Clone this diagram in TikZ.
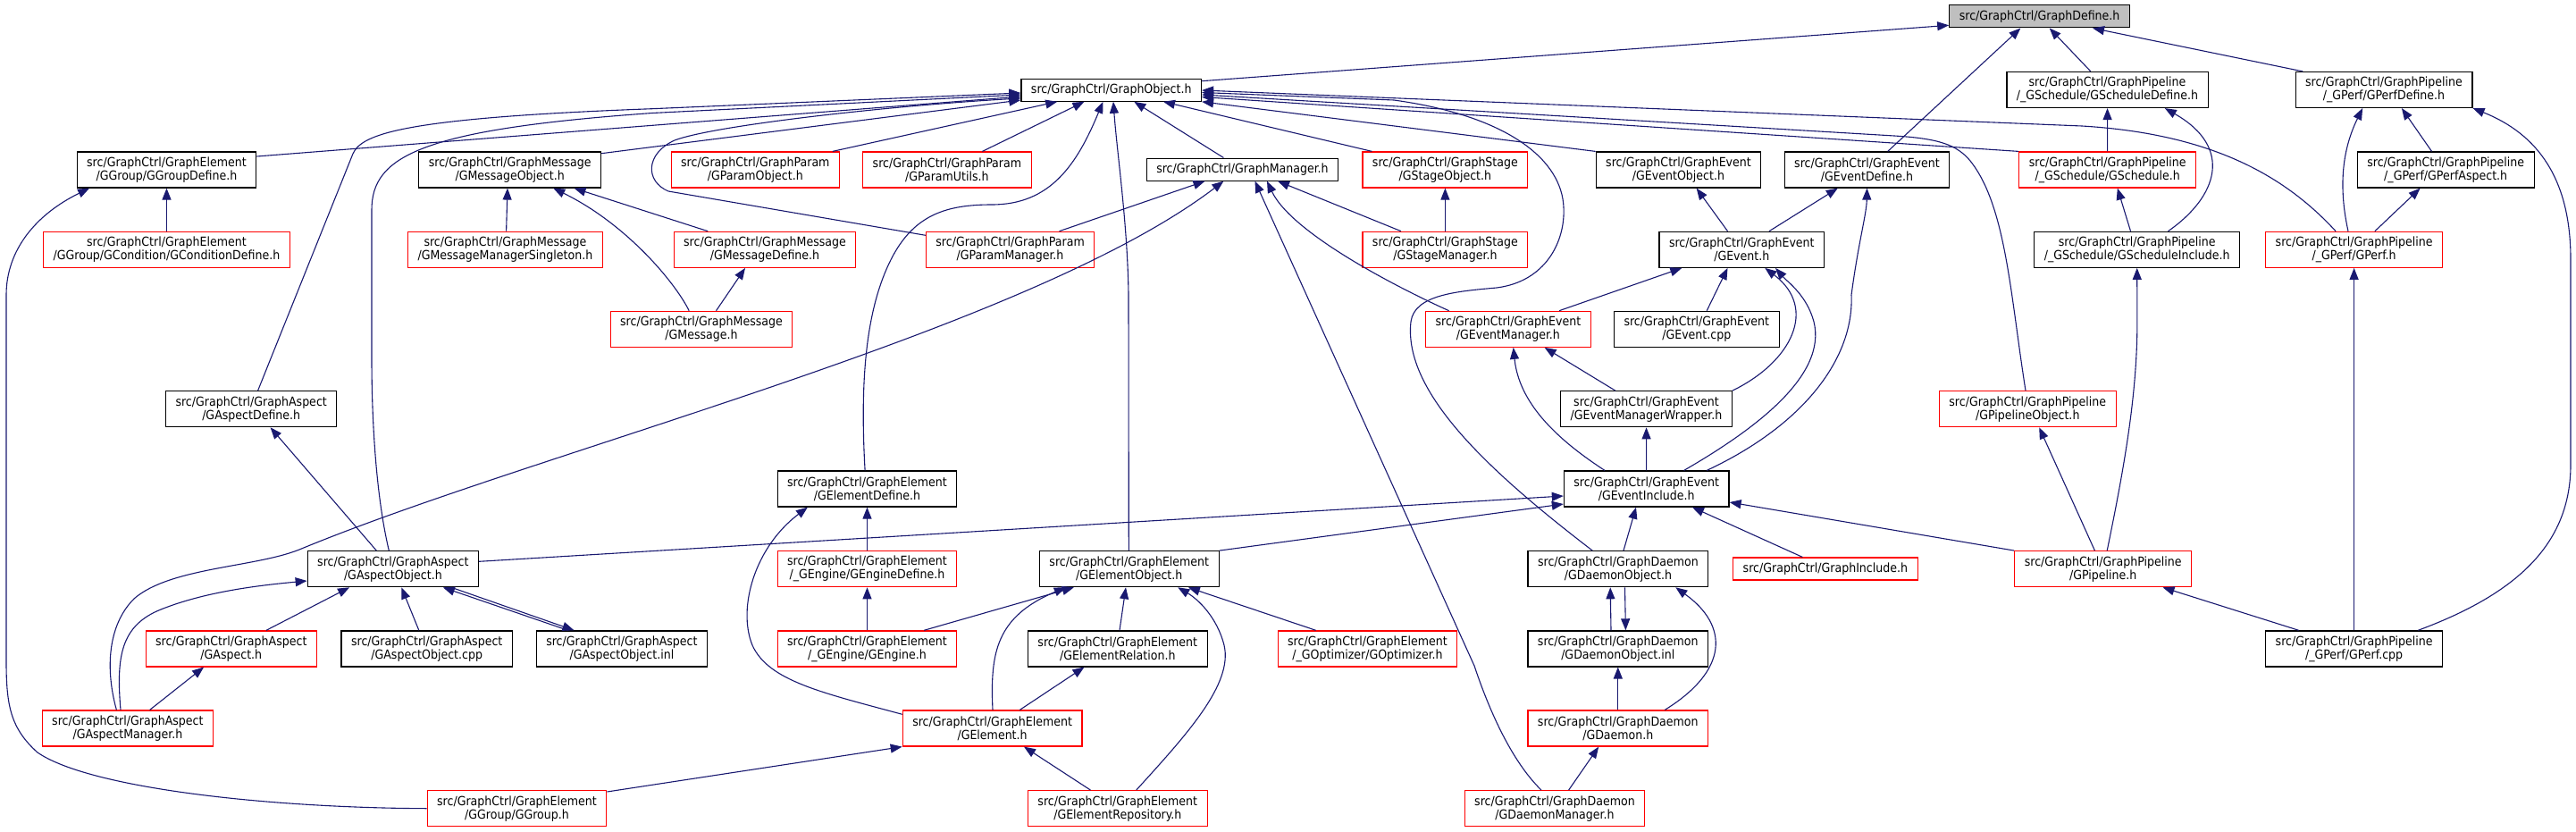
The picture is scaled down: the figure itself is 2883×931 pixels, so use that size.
\documentclass[tikz,border=0pt]{standalone}
\usepackage{fontspec}
\setmainfont{DejaVu Sans Condensed}
\usepackage{xcolor}
\usepackage{tikz}
\usetikzlibrary{arrows.meta}
\definecolor{edgeblue}{RGB}{25,25,112}
\definecolor{rootgray}{RGB}{191,191,191}
\definecolor{cutred}{RGB}{255,0,0}
\newcommand{\boxfont}{\fontsize{14}{15}\selectfont}
\tikzset{
  filebox/.style={rectangle, draw=black, fill=white, line width=1.2pt,
    inner xsep=11pt, inner ysep=0pt, minimum height=40pt,
    align=center, font=\boxfont},
  redbox/.style={filebox, draw=cutred},
  linebox/.style={filebox, minimum height=25pt},
  rootbox/.style={linebox, fill=rootgray},
  dep/.style={-{Triangle[length=13pt,width=10pt]}, line width=1.1pt, color=edgeblue}
}
\begin{document}
\begin{tikzpicture}[x=1pt, y=-1pt]
  \useasboundingbox (0,0) rectangle (2883,931);

  % row 0 and row 1
  \node[rootbox] (gdef) at (2282.6,18.4) {src/GraphCtrl/GraphDefine.h};
  \node[linebox] (gobj) at (1243.7,100.7) {src/GraphCtrl/GraphObject.h};
  \node[filebox] (gschdef) at (2358.5,100.5) {src/GraphCtrl/GraphPipeline\\/\_GSchedule/GScheduleDefine.h};
  \node[filebox] (gpdef) at (2668,100.5) {src/GraphCtrl/GraphPipeline\\/\_GPerf/GPerfDefine.h};

  % row 2
  \node[filebox] (ggrpdef) at (186.5,190) {src/GraphCtrl/GraphElement\\/GGroup/GGroupDefine.h};
  \node[filebox] (gmsgobj) at (570.7,190) {src/GraphCtrl/GraphMessage\\/GMessageObject.h};
  \node[redbox] (gparobj) at (845.3,190) {src/GraphCtrl/GraphParam\\/GParamObject.h};
  \node[redbox] (gparutl) at (1059.9,190) {src/GraphCtrl/GraphParam\\/GParamUtils.h};
  \node[linebox] (gmgr) at (1390.5,189.6) {src/GraphCtrl/GraphManager.h};
  \node[redbox] (gstgobj) at (1617.4,190) {src/GraphCtrl/GraphStage\\/GStageObject.h};
  \node[filebox] (gevobj) at (1878.5,190) {src/GraphCtrl/GraphEvent\\/GEventObject.h};
  \node[filebox] (gevdef) at (2089.5,190) {src/GraphCtrl/GraphEvent\\/GEventDefine.h};
  \node[redbox] (gsch) at (2358.7,190) {src/GraphCtrl/GraphPipeline\\/\_GSchedule/GSchedule.h};
  \node[filebox] (gpasp) at (2737.2,190) {src/GraphCtrl/GraphPipeline\\/\_GPerf/GPerfAspect.h};

  % row 3
  \node[redbox] (gcond) at (186.5,279.3) {src/GraphCtrl/GraphElement\\/GGroup/GCondition/GConditionDefine.h};
  \node[redbox] (gmms) at (565.4,279.3) {src/GraphCtrl/GraphMessage\\/GMessageManagerSingleton.h};
  \node[redbox] (gmsgdef) at (856,279.3) {src/GraphCtrl/GraphMessage\\/GMessageDefine.h};
  \node[redbox] (gparmgr) at (1130.6,279.3) {src/GraphCtrl/GraphParam\\/GParamManager.h};
  \node[redbox] (gstgmgr) at (1617.4,279.3) {src/GraphCtrl/GraphStage\\/GStageManager.h};
  \node[filebox] (gevh) at (1949.3,279.3) {src/GraphCtrl/GraphEvent\\/GEvent.h};
  \node[filebox] (gschinc) at (2391.7,279.3) {src/GraphCtrl/GraphPipeline\\/\_GSchedule/GScheduleInclude.h};
  \node[redbox] (gperf) at (2634.6,279.3) {src/GraphCtrl/GraphPipeline\\/\_GPerf/GPerf.h};

  % row 4
  \node[redbox] (gmsg) at (785,368.3) {src/GraphCtrl/GraphMessage\\/GMessage.h};
  \node[redbox] (gevmgr) at (1687.9,368.3) {src/GraphCtrl/GraphEvent\\/GEventManager.h};
  \node[filebox] (gevcpp) at (1898.8,368.3) {src/GraphCtrl/GraphEvent\\/GEvent.cpp};

  % row 5
  \node[filebox] (gaspdef) at (281.2,457.7) {src/GraphCtrl/GraphAspect\\/GAspectDefine.h};
  \node[filebox] (gevmw) at (1842.5,457.7) {src/GraphCtrl/GraphEvent\\/GEventManagerWrapper.h};
  \node[redbox] (gpipobj) at (2269.3,457.7) {src/GraphCtrl/GraphPipeline\\/GPipelineObject.h};

  % row 6
  \node[filebox] (geldef) at (970.5,547) {src/GraphCtrl/GraphElement\\/GElementDefine.h};
  \node[filebox] (gevinc) at (1842.7,547) {src/GraphCtrl/GraphEvent\\/GEventInclude.h};

  % row 7
  \node[filebox] (gaspobj) at (439.9,636.7) {src/GraphCtrl/GraphAspect\\/GAspectObject.h};
  \node[redbox] (gengdef) at (970.5,636.7) {src/GraphCtrl/GraphElement\\/\_GEngine/GEngineDefine.h};
  \node[filebox] (gelobj) at (1263.8,636.7) {src/GraphCtrl/GraphElement\\/GElementObject.h};
  \node[filebox] (gdobj) at (1810.9,636.7) {src/GraphCtrl/GraphDaemon\\/GDaemonObject.h};
  \node[redbox, minimum height=25pt] (ginc) at (2042.9,636.5) {src/GraphCtrl/GraphInclude.h};
  \node[redbox] (gpipe) at (2353.7,636.7) {src/GraphCtrl/GraphPipeline\\/GPipeline.h};

  % row 8
  \node[redbox] (gasp) at (258.8,725.9) {src/GraphCtrl/GraphAspect\\/GAspect.h};
  \node[filebox] (gaspcpp) at (477.7,725.9) {src/GraphCtrl/GraphAspect\\/GAspectObject.cpp};
  \node[filebox] (gaspinl) at (695.9,725.9) {src/GraphCtrl/GraphAspect\\/GAspectObject.inl};
  \node[redbox] (geng) at (970.5,725.9) {src/GraphCtrl/GraphElement\\/\_GEngine/GEngine.h};
  \node[filebox] (gelrel) at (1250.8,725.9) {src/GraphCtrl/GraphElement\\/GElementRelation.h};
  \node[redbox] (gopt) at (1530.5,725.9) {src/GraphCtrl/GraphElement\\/\_GOptimizer/GOptimizer.h};
  \node[filebox] (gdinl) at (1810.8,725.9) {src/GraphCtrl/GraphDaemon\\/GDaemonObject.inl};
  \node[filebox] (gpcpp) at (2634.6,725.9) {src/GraphCtrl/GraphPipeline\\/\_GPerf/GPerf.cpp};

  % row 9 and row 10
  \node[redbox] (gaspmgr) at (142.9,815) {src/GraphCtrl/GraphAspect\\/GAspectManager.h};
  \node[redbox] (gelem) at (1110.6,815) {src/GraphCtrl/GraphElement\\/GElement.h};
  \node[redbox] (gdaemon) at (1810.8,815) {src/GraphCtrl/GraphDaemon\\/GDaemon.h};
  \node[redbox] (ggroup) at (578.5,904.7) {src/GraphCtrl/GraphElement\\/GGroup/GGroup.h};
  \node[redbox] (gelrepo) at (1250.8,904.7) {src/GraphCtrl/GraphElement\\/GElementRepository.h};
  \node[redbox] (gdmgr) at (1740,904.7) {src/GraphCtrl/GraphDaemon\\/GDaemonManager.h};

  % into GraphDefine.h
  \draw[dep] ([yshift=10pt]gobj.east) -- ([yshift=-9.9pt]gdef.west);
  \draw[dep] ([xshift=23.2pt]gevdef.north) -- ([xshift=-21.2pt]gdef.south);
  \draw[dep] ([xshift=-18.7pt]gschdef.north) -- ([xshift=11.1pt]gdef.south);
  \draw[dep] ([xshift=-90.8pt]gpdef.north) -- ([xshift=59.4pt]gdef.south);

  % into GraphObject.h
  \draw[dep] ([xshift=7.4pt]gaspdef.north) -- (395,172) .. controls (405,150) and (450,132) .. (730,121.7) -- ([yshift=-3.3pt]gobj.west);
  \draw[dep] ([xshift=-4.6pt]gaspobj.north) .. controls (422,560) and (416,480) .. (416,400) -- (416,235) .. controls (416,175) and (470,145) .. (730,126.5) -- ([yshift=-5.3pt]gobj.west);
  \draw[dep] ([yshift=15pt]ggrpdef.east) -- ([yshift=-7.3pt]gobj.west);
  \draw[dep] ([yshift=16pt]gparmgr.west) -- (748,214) .. controls (722,203) and (722,172) .. (755,157) .. controls (800,140) and (1000,118) .. ([yshift=-9.3pt]gobj.west);
  \draw[dep] ([yshift=18.3pt]gmsgobj.east) -- ([yshift=-11.3pt]gobj.west);
  \draw[dep] ([xshift=86.5pt]gparobj.north) -- ([xshift=-60.5pt]gobj.south);
  \draw[dep] ([xshift=39.5pt]gparutl.north) -- ([xshift=-30.2pt]gobj.south);
  \draw[dep] ([xshift=-2.4pt]geldef.north) .. controls (962,420) and (970,340) .. (1000,285) .. controls (1025,240) and (1060,229) .. (1110,229) .. controls (1175,229) and (1205,185) .. ([xshift=-9.3pt]gobj.south);
  \draw[dep] ([xshift=-0.5pt]gelobj.north) -- (1263,330) .. controls (1262,250) and (1250,170) .. ([xshift=2.3pt]gobj.south);
  \draw[dep] ([xshift=-21.1pt]gmgr.north) -- ([xshift=25.6pt]gobj.south);
  \draw[dep] ([xshift=-82pt]gstgobj.north) -- ([xshift=58.3pt]gobj.south);
  \draw[dep] (gevobj.north west) -- (gobj.south east);
  \draw[dep] ([xshift=-28.7pt]gdobj.north) .. controls (1670,530) and (1570,440) .. (1579,360) .. controls (1583,330) and (1630,326) .. (1675,322) .. controls (1730,315) and (1752,270) .. (1750,232) .. controls (1748,180) and (1690,130) .. (1560,112) -- ([yshift=-2.8pt]gobj.east);
  \draw[dep] (gsch.north west) -- ([yshift=-7.8pt]gobj.east);
  \draw[dep] ([xshift=-20.5pt]gperf.north) .. controls (2560,200) and (2480,150) .. (2330,141) -- ([yshift=-0.3pt]gobj.east);
  \draw[dep] ([xshift=-2.3pt]gpipobj.north) .. controls (2250,330) and (2245,230) .. (2205,180) .. controls (2190,162) and (2170,155) .. (2120,152) -- ([yshift=-5.3pt]gobj.east);

  % into GraphManager.h
  \draw[dep] ([xshift=54.9pt]gparmgr.north) -- ([xshift=-42pt]gmgr.south);
  \draw[dep] ([xshift=-12.5pt]gaspmgr.north) .. controls (118,750) and (120,700) .. (150,670) .. controls (190,635) and (285,635) .. (335,615) .. controls (600,505) and (1150,370) .. ([xshift=-21.1pt]gmgr.south);
  \draw[dep] ([xshift=-15pt]gdmgr.north) .. controls (1690,850) and (1665,790) .. (1650,745) -- ([xshift=14pt]gmgr.south);
  \draw[dep] ([xshift=-66.3pt]gevmgr.north) .. controls (1560,320) and (1445,260) .. ([xshift=27.5pt]gmgr.south);
  \draw[dep] ([xshift=-49.4pt]gstgmgr.north) -- ([xshift=39.5pt]gmgr.south);

  % stage and event headers
  \draw[dep] (gstgmgr) -- (gstgobj);
  \draw[dep] ([xshift=-15.8pt]gevh.north) -- ([xshift=20.1pt]gevobj.south);
  \draw[dep] ([xshift=30.7pt]gevh.north) -- ([xshift=-32.7pt]gevdef.south);
  \draw[dep] ([xshift=67.5pt]gevinc.north) .. controls (2020,475) and (2075,400) .. (2072,330) .. controls (2080,270) and (2089,240) .. (gevdef.south);
  \draw[dep] ([xshift=57.1pt]gevmgr.north) -- ([xshift=-67pt]gevh.south);
  \draw[dep] ([xshift=11.4pt]gevcpp.north) -- ([xshift=-15.8pt]gevh.south);
  \draw[dep] (gevmw.north east) .. controls (2005,405) and (2035,345) .. ([xshift=26pt]gevh.south);
  \draw[dep] ([xshift=41.9pt]gevinc.north) .. controls (1965,480) and (2045,420) .. (2030,360) .. controls (2022,330) and (2000,315) .. ([xshift=37.7pt]gevh.south);
  \draw[dep] ([xshift=-34.7pt]gevmw.north) -- ([xshift=40.7pt]gevmgr.south);
  \draw[dep] ([xshift=-46.7pt]gevinc.north) .. controls (1740,490) and (1700,450) .. ([xshift=5.8pt]gevmgr.south);
  \draw[dep] (gevinc) -- (gevmw);

  % into GEventInclude.h
  \draw[dep] ([yshift=8.4pt]gaspobj.east) -- ([yshift=-8pt]gevinc.west);
  \draw[dep] (gelobj.north east) -- ([yshift=-17pt]gevinc.west);
  \draw[dep] ([xshift=6.1pt]gdobj.north) -- ([xshift=-11.7pt]gevinc.south);
  \draw[dep] ([xshift=-25.6pt]ginc.north) -- ([xshift=51.2pt]gevinc.south);
  \draw[dep] (gpipe.north west) -- ([yshift=-15pt]gevinc.east);

  % daemon headers
  \draw[dep] ([xshift=-7.8pt]gdinl.north) -- ([xshift=-8.7pt]gdobj.south);
  \draw[dep] ([xshift=7.6pt]gdobj.south) -- ([xshift=8.6pt]gdinl.north);
  \draw[dep] ([xshift=52.4pt]gdaemon.north) .. controls (1935,750) and (1935,700) .. ([xshift=64.4pt]gdobj.south);
  \draw[dep] (gdaemon) -- (gdinl);
  \draw[dep] ([xshift=15.6pt]gdmgr.north) -- ([xshift=-21.6pt]gdaemon.south);

  % element headers
  \draw[dep] ([xshift=63.7pt]geng.north) -- ([xshift=-62pt]gelobj.south);
  \draw[dep] ([xshift=0.4pt]gelem.north) .. controls (1108,730) and (1115,690) .. ([xshift=-71pt]gelobj.south);
  \draw[dep] ([xshift=2.2pt]gelrel.north) -- ([xshift=-3.8pt]gelobj.south);
  \draw[dep] ([xshift=20.9pt]gelrepo.north) .. controls (1330,820) and (1380,765) .. (1370,722) .. controls (1362,690) and (1340,670) .. ([xshift=54.4pt]gelobj.south);
  \draw[dep] ([xshift=-57.9pt]gopt.north) -- ([xshift=66pt]gelobj.south);
  \draw[dep] ([xshift=30.7pt]gelem.north) -- ([xshift=-37.3pt]gelrel.south);
  \draw[dep] ([xshift=-30.3pt]gelrepo.north) -- ([xshift=35.4pt]gelem.south);
  \draw[dep] (geng) -- (gengdef);
  \draw[dep] (gengdef) -- (geldef);
  \draw[dep] ([yshift=15.7pt]gelem.west) .. controls (920,775) and (860,762) .. (842,722) .. controls (825,680) and (845,612) .. ([xshift=-66.6pt]geldef.south);
  \draw[dep] ([yshift=18.7pt]ggroup.east) -- (gelem.south west);
  \draw[dep] (ggroup.west) .. controls (300,904) and (100,882) .. (42,842) .. controls (12,815) and (7,790) .. (7,740) -- (7,330) .. controls (7,280) and (40,240) .. ([xshift=-86.4pt]ggrpdef.south);
  \draw[dep] (gcond) -- (ggrpdef);

  % message headers
  \draw[dep] ([xshift=1.2pt]gmms.north) -- ([xshift=-2.7pt]gmsgobj.south);
  \draw[dep] ([xshift=-63.8pt]gmsgdef.north) -- ([xshift=71.8pt]gmsgobj.south);
  \draw[dep] ([xshift=-13.8pt]gmsg.north) .. controls (755,315) and (700,250) .. ([xshift=48.5pt]gmsgobj.south);
  \draw[dep] ([xshift=16.5pt]gmsg.north) -- ([xshift=-22pt]gmsgdef.south);

  % aspect headers
  \draw[dep] ([xshift=-18.6pt]gaspobj.north) -- ([xshift=21.4pt]gaspdef.south);
  \draw[dep] ([xshift=39.2pt]gasp.north) -- ([xshift=-48.8pt]gaspobj.south);
  \draw[dep] ([xshift=-8.9pt]gaspcpp.north) -- ([xshift=9.4pt]gaspobj.south);
  \draw[dep] ([xshift=-60.4pt]gaspinl.north) -- ([xshift=55.9pt]gaspobj.south);
  \draw[dep] ([xshift=65.2pt]gaspobj.south) -- ([xshift=-53.4pt]gaspinl.north);
  \draw[dep] ([xshift=-7.9pt]gaspmgr.north) .. controls (130,735) and (135,700) .. (180,682) .. controls (230,662) and (290,655) .. ([yshift=-13.3pt]gaspobj.west);
  \draw[dep] ([xshift=24.7pt]gaspmgr.north) -- ([xshift=-30.7pt]gasp.south);

  % pipeline headers
  \draw[dep] (gsch) -- (gschdef);
  \draw[dep] ([xshift=34.8pt]gschinc.north) .. controls (2482,220) and (2500,165) .. ([xshift=64.3pt]gschdef.south);
  \draw[dep] ([xshift=-7.2pt]gschinc.north) -- ([xshift=11.1pt]gsch.south);
  \draw[dep] ([xshift=4.5pt]gpipe.north) .. controls (2378,520) and (2391.9,440) .. (2391.9,360) -- (gschinc.south);
  \draw[dep] ([xshift=-9.3pt]gpipe.north) -- ([xshift=12.9pt]gpipobj.south);
  \draw[dep] ([xshift=-6.6pt]gperf.north) .. controls (2615,200) and (2625,160) .. ([xshift=-23.9pt]gpdef.south);
  \draw[dep] ([xshift=-15.7pt]gpasp.north) -- ([xshift=19.9pt]gpdef.south);
  \draw[dep] ([xshift=71.7pt]gpcpp.north) .. controls (2815,665) and (2877,610) .. (2877,520) -- (2877,290) .. controls (2877,200) and (2840,150) .. (gpdef.south east);
  \draw[dep] ([xshift=23.3pt]gperf.north) -- ([xshift=-28.6pt]gpasp.south);
  \draw[dep] (gpcpp) -- (gperf);
  \draw[dep] ([xshift=-62pt]gpcpp.north) -- ([xshift=66.8pt]gpipe.south);
\end{tikzpicture}
\end{document}
